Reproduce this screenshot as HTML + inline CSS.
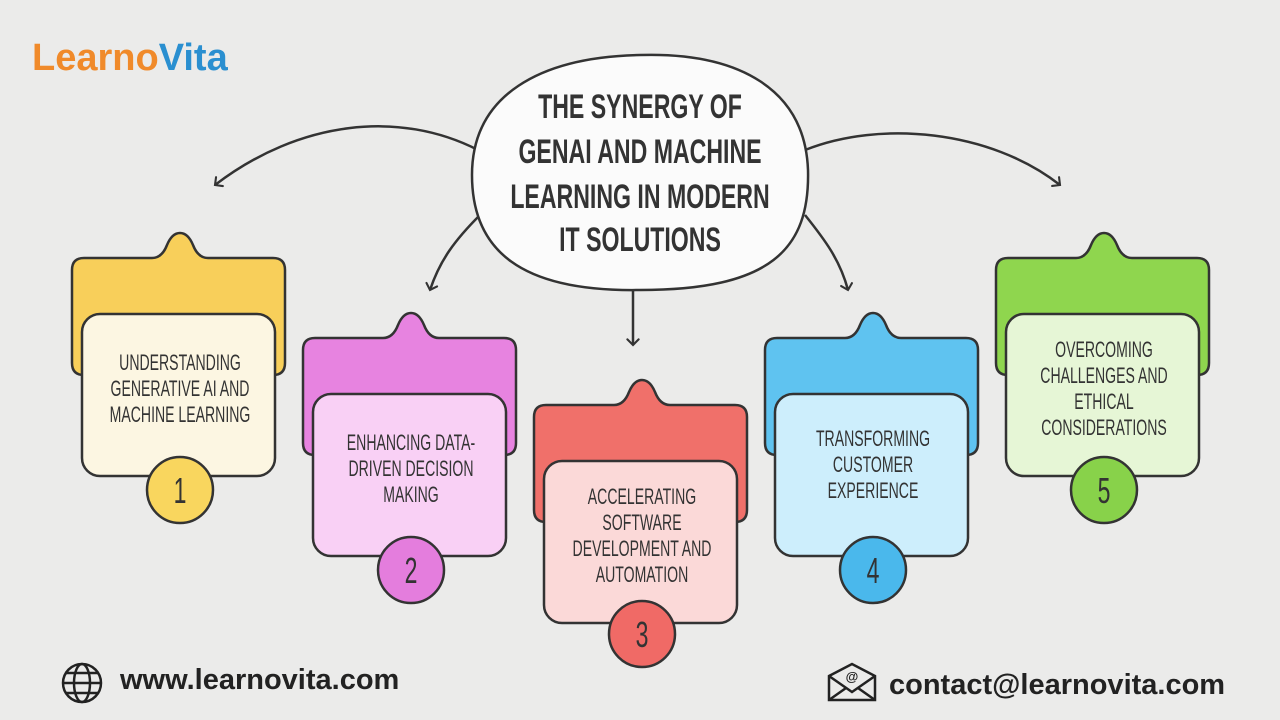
<!DOCTYPE html>
<html><head><meta charset="utf-8"><style>
html,body{margin:0;padding:0;width:1280px;height:720px;overflow:hidden;background:#ebebea;}
svg{display:block}
.t{font-family:"Liberation Sans",sans-serif;fill:#333;text-anchor:middle;}
</style></head><body>
<svg width="1280" height="720" viewBox="0 0 1280 720" xmlns="http://www.w3.org/2000/svg">
<defs>
<g id="back"><path d="M0,37 Q0,25 12,25 L80,25 Q90,25 95,12 Q100,0 108,0 Q116,0 121,12 Q126,25 136,25 L201,25 Q213,25 213,37 L213,130 Q213,142 201,142 L12,142 Q0,142 0,130 Z" stroke="#333" stroke-width="2.5"/></g>
<marker id="ah" viewBox="0 0 20 20" refX="10" refY="10" markerWidth="14" markerHeight="14" orient="auto-start-reverse" markerUnits="userSpaceOnUse"><path d="M2,2 L10,10 L2,18" fill="none" stroke="#333" stroke-width="3" stroke-linecap="round"/></marker>
</defs>
<rect width="1280" height="720" fill="#ebebea"/>
<text x="32" y="70" font-family="Liberation Sans,sans-serif" font-weight="bold" font-size="38" fill="#f08a2a">Learno<tspan fill="#2a8fd0">Vita</tspan></text>
<g fill="none" stroke="#333" stroke-width="2.5" marker-end="url(#ah)">
<path d="M478,150 C400,110 300,120 215,185"/>
<path d="M480,215 C455,240 440,260 430,290"/>
<path d="M633,290 L633,345"/>
<path d="M805,215 C825,240 840,260 848,290"/>
<path d="M805,150 C880,120 990,130 1060,185"/>
</g>
<path d="M640,55 C740,52 805,90 808,170 C810,250 770,290 640,290 C520,292 472,250 472,175 C472,95 540,57 640,55 Z" fill="#fbfbfb" stroke="#333" stroke-width="2.5"/>
<g class="t" font-weight="bold" font-size="34" transform="translate(640,0) scale(0.68,1)">
<text x="0" y="118">THE SYNERGY OF</text>
<text x="0" y="163">GENAI AND MACHINE</text>
<text x="0" y="208">LEARNING IN MODERN</text>
<text x="0" y="251">IT SOLUTIONS</text>
</g>
<g transform="translate(72,233)">
<use href="#back" fill="#f8cf5a"/>
<rect x="10" y="81" width="193" height="162" rx="18" fill="#fcf6e2" stroke="#333" stroke-width="2.5"/>
<circle cx="108" cy="257" r="33" fill="#f9d65e" stroke="#333" stroke-width="2.5"/>
<g class="t" font-size="22" transform="translate(108,0) scale(0.64,1)"><text x="0" y="137">UNDERSTANDING</text><text x="0" y="163">GENERATIVE AI AND</text><text x="0" y="189">MACHINE LEARNING</text><text x="0" y="270" font-size="36">1</text></g>
</g>
<g transform="translate(303,313)">
<use href="#back" fill="#e783e0"/>
<rect x="10" y="81" width="193" height="162" rx="18" fill="#f9d0f5" stroke="#333" stroke-width="2.5"/>
<circle cx="108" cy="257" r="33" fill="#e47ddd" stroke="#333" stroke-width="2.5"/>
<g class="t" font-size="22" transform="translate(108,0) scale(0.64,1)"><text x="0" y="137">ENHANCING DATA-</text><text x="0" y="163">DRIVEN DECISION</text><text x="0" y="189">MAKING</text><text x="0" y="270" font-size="36">2</text></g>
</g>
<g transform="translate(534,380)">
<use href="#back" fill="#f0706a"/>
<rect x="10" y="81" width="193" height="162" rx="18" fill="#fbd9d8" stroke="#333" stroke-width="2.5"/>
<circle cx="108" cy="254" r="33" fill="#f06a66" stroke="#333" stroke-width="2.5"/>
<g class="t" font-size="22" transform="translate(108,0) scale(0.64,1)"><text x="0" y="124">ACCELERATING</text><text x="0" y="150">SOFTWARE</text><text x="0" y="176">DEVELOPMENT AND</text><text x="0" y="202">AUTOMATION</text><text x="0" y="267" font-size="36">3</text></g>
</g>
<g transform="translate(765,313)">
<use href="#back" fill="#5fc3f0"/>
<rect x="10" y="81" width="193" height="162" rx="18" fill="#cdeefc" stroke="#333" stroke-width="2.5"/>
<circle cx="108" cy="257" r="33" fill="#4ab8ec" stroke="#333" stroke-width="2.5"/>
<g class="t" font-size="22" transform="translate(108,0) scale(0.64,1)"><text x="0" y="133">TRANSFORMING</text><text x="0" y="159">CUSTOMER</text><text x="0" y="185">EXPERIENCE</text><text x="0" y="270" font-size="36">4</text></g>
</g>
<g transform="translate(996,233)">
<use href="#back" fill="#8fd64e"/>
<rect x="10" y="81" width="193" height="162" rx="18" fill="#e6f6d6" stroke="#333" stroke-width="2.5"/>
<circle cx="108" cy="257" r="33" fill="#88d24a" stroke="#333" stroke-width="2.5"/>
<g class="t" font-size="22" transform="translate(108,0) scale(0.64,1)"><text x="0" y="124">OVERCOMING</text><text x="0" y="150">CHALLENGES AND</text><text x="0" y="176">ETHICAL</text><text x="0" y="202">CONSIDERATIONS</text><text x="0" y="270" font-size="36">5</text></g>
</g>
<g fill="none" stroke="#222" stroke-width="2.5">
<circle cx="82" cy="683" r="19"/>
<ellipse cx="82" cy="683" rx="8" ry="19"/>
<line x1="63" y1="683" x2="101" y2="683"/>
<path d="M66,673 H98 M66,693 H98"/>
</g>
<text x="120" y="689" font-family="Liberation Sans,sans-serif" font-weight="bold" font-size="29" fill="#222">www.learnovita.com</text>
<g fill="none" stroke="#222" stroke-width="2.5">
<path d="M829,676 L852,664 L875,676 V700 H829 Z"/>
<path d="M829,676 L852,692 L875,676 M829,700 L846,688 M875,700 L858,688"/>
</g>
<text x="852" y="681" font-family="Liberation Sans,sans-serif" font-weight="bold" font-size="13" fill="#222" text-anchor="middle">@</text>
<text x="889" y="694" font-family="Liberation Sans,sans-serif" font-weight="bold" font-size="29" fill="#222">contact@learnovita.com</text>
</svg>
</body></html>
